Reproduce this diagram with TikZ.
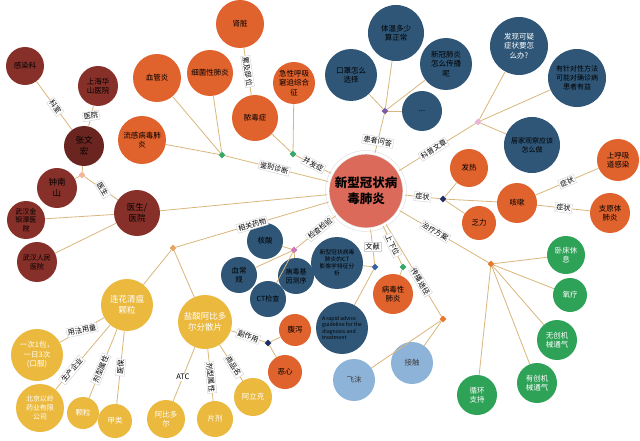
\documentclass[tikz,border=0pt]{standalone}
\usepackage{fontspec}
\setmainfont{Noto Sans CJK SC}
\definecolor{csalmon}{HTML}{DC6A5B}
\definecolor{cnavy}{HTML}{2F5677}
\definecolor{corng}{HTML}{E0622D}
\definecolor{cbrick}{HTML}{87302A}
\definecolor{cbrickd}{HTML}{6A2520}
\definecolor{cyell}{HTML}{EBB93D}
\definecolor{cgreen}{HTML}{2EA257}
\definecolor{csky}{HTML}{8EB3D9}
\definecolor{ctan}{HTML}{D9B77C}
\definecolor{cpurple}{HTML}{7E5BA6}
\definecolor{cpink}{HTML}{E9B3D6}
\definecolor{cnavyd}{HTML}{1E2E66}
\definecolor{chubor}{HTML}{E8782E}
\definecolor{cblue}{HTML}{3463A8}
\definecolor{cpinkd}{HTML}{CF78BE}
\definecolor{cpeach}{HTML}{E9A561}
\definecolor{cpeachl}{HTML}{F2B49A}
\definecolor{chubgr}{HTML}{34A866}

\begin{document}
\begin{tikzpicture}[x=1pt,y=-1pt,
    bub/.style={circle,inner sep=0pt,align=center,minimum size=#1pt,font=\fontsize{7.5}{9.5}\selectfont},
    navyb/.style={bub=#1,fill=cnavy,text=black},
    orngb/.style={bub=#1,fill=corng,text=black},
    brickb/.style={bub=#1,fill=cbrick,text=black},
    yellb/.style={bub=#1,fill=cyell,text=white},
    greenb/.style={bub=#1,fill=cgreen,text=white},
    skyb/.style={bub=#1,fill=csky,text=black!75},
    hub/.style={circle,inner sep=0pt,minimum size=3pt,fill=black,draw=#1,line width=2.5pt},
    tag/.style={fill=white,draw=black!18,line width=.4pt,inner sep=1.2pt,font=\fontsize{7.2}{8}\selectfont},
    ln/.style={draw=ctan,line width=.8pt}]
    \fill[white] (0,0) rectangle (640,441);
    \useasboundingbox (0,0) rectangle (640,441);

    \node[circle,fill=csalmon,draw=black!12,double=white,double distance=3pt,line width=.6pt,
          minimum size=76pt,align=center,font=\fontsize{12.5}{16}\selectfont\bfseries] (O) at (366,191) {新型冠状病\\毒肺炎};

    % 患者问答
    \node[hub=cpurple] (h1) at (385,111) {};
    \node[navyb=52] (a1) at (351,75) {口罩怎么\\选择};
    \node[navyb=56] (a2) at (396,33) {体温多少\\算正常};
    \node[navyb=52] (a3) at (446,64) {新冠肺炎\\怎么传播\\呢};
    \node[navyb=40] (a4) at (422,111) {...};
    \draw[ln] (O) -- node[tag,pos=.3,rotate=-10] {患者问答} (h1);
    \draw[ln] (h1) -- (a1);
    \draw[ln] (h1) -- (a2);
    \draw[ln] (h1) -- (a3);
    \draw[ln] (h1) -- (a4);

    % 科普文章
    \node[hub=cpink] (h2) at (478,122) {};
    \node[navyb=58,text=white] (b1) at (519,46) {发现可疑\\症状要怎\\么办?};
    \node[navyb=58,font=\fontsize{7}{9}\selectfont] (b2) at (577,78) {有针对性方法\\可能对确诊病\\患者有益};
    \node[navyb=56,font=\fontsize{7}{9}\selectfont] (b3) at (532,145) {居家观察应该\\怎么做};
    \draw[ln] (O) -- node[tag,sloped,pos=.45] {科普文章} (h2);
    \draw[ln] (h2) -- (b1);
    \draw[ln] (h2) -- (b2);
    \draw[ln] (h2) -- (b3);

    % 症状
    \node[hub=cnavyd] (h3) at (443,199) {};
    \node[orngb=38] (c1) at (469,168) {发热};
    \node[orngb=34] (c2) at (479,223) {乏力};
    \node[orngb=40] (c3) at (517,203) {咳嗽};
    \node[orngb=42] (c4) at (618,160) {上呼吸\\道感染};
    \node[orngb=40] (c5) at (610,213) {支原体\\肺炎};
    \draw[ln] (O) -- node[tag,sloped] {症状} (h3);
    \draw[ln] (h3) -- (c1);
    \draw[ln] (h3) -- (c2);
    \draw[ln] (h3) -- (c3);
    \draw[ln] (c3) -- node[tag,sloped] {症状} (c4);
    \draw[ln] (c3) -- node[tag,sloped] {症状} (c5);

    % 治疗方案
    \node[hub=chubor] (h4) at (491,264) {};
    \node[greenb=38] (d1) at (566,255) {卧床休\\息};
    \node[greenb=34] (d2) at (570,295) {氧疗};
    \node[greenb=40] (d3) at (557,340) {无创机\\械通气};
    \node[greenb=40] (d4) at (537,383) {有创机\\械通气};
    \node[greenb=40] (d5) at (477,395) {循环\\支持};
    \draw[ln] (O) -- node[tag,sloped,pos=.4] {治疗方案} (h4);
    \draw[ln] (h4) -- (d1);
    \draw[ln] (h4) -- (d2);
    \draw[ln] (h4) -- (d3);
    \draw[ln] (h4) -- (d4);
    \draw[ln] (h4) -- (d5);

    % 传播途径
    \node[hub=chubor,fill=chubor] (h5) at (443,319) {};
    \node[skyb=42] (e1) at (354,380) {飞沫};
    \node[skyb=42] (e2) at (412,363) {接触};
    \draw[ln] (O) -- node[tag,sloped,pos=.62] {传播途径} (h5);
    \draw[ln] (h5) -- (e1);
    \draw[ln] (h5) -- (e2);

    % 上下位
    \node[hub=chubgr] (h6) at (403,267) {};
    \node[orngb=40] (f1) at (393,294) {病毒性\\肺炎};
    \draw[ln] (O) -- node[tag,sloped,pos=.5] {上下位} (h6);
    \draw[ln] (h6) -- (f1);

    % 文献
    \node[hub=cblue] (h7) at (375,267) {};
    \node[navyb=52,font=\fontsize{5.8}{7}\selectfont] (g1) at (337,263) {新型冠状病毒\\肺炎的CT\\影像学特征分\\析};
    \node[navyb=52,align=left,font=\fontsize{5.2}{6.2}\selectfont] (g2) at (342,328) {A rapid advice\\guideline for the\\diagnosis and\\treatment};
    \draw[ln] (O) -- node[tag,pos=.5] {文献} (h7);
    \draw[ln] (h7) -- (g1);
    \draw[ln] (h7) -- (g2);

    % 检查检验
    \node[hub=cpinkd] (h8) at (294,250) {};
    \node[navyb=36] (k1) at (265,241) {核酸};
    \node[navyb=36] (k2) at (239,275) {血常\\规};
    \node[navyb=36,font=\fontsize{7}{9}\selectfont] (k3) at (296,276) {病毒基\\因测序};
    \node[navyb=36,font=\fontsize{7}{9}\selectfont] (k4) at (268,299) {CT检查};
    \draw[ln] (O) -- node[tag,sloped,pos=.4] {检查检验} (h8);
    \draw[ln] (h8) -- (k1);
    \draw[ln] (h8) -- (k2);
    \draw[ln] (h8) -- (k3);
    \draw[ln] (h8) -- (k4);

    % 相关药物
    \node[hub=cpeach] (h9) at (173,248) {};
    \node[yellb=52,font=\fontsize{8.5}{11}\selectfont] (m1) at (127,305) {连花清瘟\\颗粒};
    \node[yellb=54,font=\fontsize{8.5}{11}\selectfont] (m2) at (205,322) {盐酸阿比多\\尔分散片};
    \draw[ln] (O) -- node[tag,sloped,pos=.5] {相关药物} (h9);
    \draw[ln] (h9) -- (m1);
    \draw[ln] (h9) -- (m2);

    \node[yellb=52] (n1) at (37,355) {一次1包，\\一日3次\\(口服)};
    \node[yellb=48,font=\fontsize{7}{9}\selectfont] (n2) at (40,408) {北京以岭\\药业有限\\公司};
    \node[yellb=32] (n3) at (83,413) {颗粒};
    \node[yellb=34] (n4) at (115,421) {甲类};
    \draw[ln] (m1) -- node[tag,rotate=12] {用法用量} (n1);
    \draw[ln] (m1) -- node[tag,sloped,pos=.7] {生产企业} (n2);
    \draw[ln] (m1) -- node[tag,sloped,pos=.58] {剂型属性} (n3);
    \draw[ln] (m1) -- node[tag,sloped,pos=.5] {医保} (n4);

    \node[yellb=38] (p1) at (166,419) {阿比多\\尔};
    \node[yellb=36] (p2) at (215,419) {片剂};
    \node[yellb=38] (p3) at (253,397) {阿立克};
    \node[hub=cnavyd] (h10) at (268,343) {};
    \node[orngb=32] (q1) at (295,330) {腹泻};
    \node[orngb=34] (q2) at (285,372) {恶心};
    \draw[ln] (m2) -- node[fill=white,inner sep=1pt,pos=.55,font=\fontsize{7.5}{8}\selectfont] {ATC} (p1);
    \draw[ln] (m2) -- node[tag,sloped,pos=.55] {剂型属性} (p2);
    \draw[ln] (m2) -- node[tag,sloped,pos=.6] {商品名} (p3);
    \draw[ln] (m2) -- node[tag,sloped,pos=.5] {副作用} (h10);
    \draw[ln] (h10) -- (q1);
    \draw[ln] (h10) -- (q2);

    % 医生/医院
    \node[brickb=46,font=\fontsize{8.5}{11}\selectfont] (r0) at (137,213) {医生/\\医院};
    \node[brickb=38,font=\fontsize{7}{8.6}\selectfont] (r1) at (26,220) {武汉金\\银潭医\\院};
    \node[brickb=40,font=\fontsize{7}{9}\selectfont] (r2) at (37,262) {武汉人民\\医院};
    \node[hub=cpeachl] (h11) at (82,175) {};
    \node[brickb=40,font=\fontsize{8.5}{11}\selectfont] (r3) at (57,188) {钟南\\山};
    \node[brickb=40,fill=cbrickd,font=\fontsize{8.5}{11}\selectfont] (r4) at (84,146) {张文\\宏};
    \node[brickb=38] (r5) at (25,66) {感染科};
    \node[brickb=40] (r6) at (98,86) {上海华\\山医院};
    \draw[ln] (O) -- (r0);
    \draw[ln] (r0) -- (r1);
    \draw[ln] (r0) -- (r2);
    \draw[ln] (r0) -- node[tag,rotate=-60,pos=.45] {医生} (h11);
    \draw[ln] (h11) -- (r3);
    \draw[ln] (h11) -- (r4);
    \draw[ln] (r4) -- node[tag,sloped,pos=.47] {科室} (r5);
    \draw[ln] (r4) -- node[tag,rotate=10] {医院} (r6);

    % 鉴别诊断
    \node[hub=chubgr] (h12) at (222,155) {};
    \node[orngb=48] (s1) at (157,78) {血管炎};
    \node[orngb=46] (s2) at (210,73) {细菌性肺炎};
    \node[orngb=48] (s3) at (142,140) {流感病毒肺\\炎};
    \draw[ln] (h12) -- node[tag,sloped,pos=.48] {鉴别诊断} (O);
    \draw[ln] (h12) -- (s1);
    \draw[ln] (h12) -- (s2);
    \draw[ln] (h12) -- (s3);

    % 并发症
    \node[hub=chubgr] (h13) at (293,154) {};
    \node[orngb=46] (t1) at (255,118) {脓毒症};
    \node[orngb=42] (t2) at (294,83) {急性呼吸\\窘迫综合\\征};
    \node[orngb=48] (t3) at (240,24) {肾脏};
    \draw[ln] (h13) -- node[tag,sloped,pos=.5] {并发症} (O);
    \draw[ln] (h13) -- (t1);
    \draw[ln] (h13) -- (t2);
    \draw[ln] (t1) -- node[tag,sloped,pos=.5] {累及部位} (t3);
\end{tikzpicture}
\end{document}
